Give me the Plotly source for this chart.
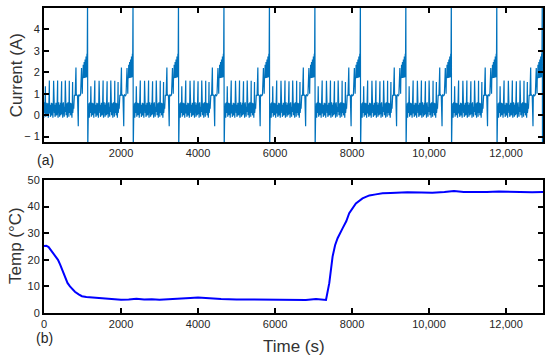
import plotly.graph_objects as go

# ---------------- data ----------------
# (a) current: the record is a repeated charge/discharge cycle; each cycle starts with a spike
CYCLE_STARTS = [-50, 1131, 2312, 3493, 4674, 5855, 7036, 8217, 9398, 10579, 11760, 12941]
SPIKE_T = [0, 6, 14]
SPIKE_I = [5.6, -1.6, 0.35]
PULSE_OFFSETS = [86, 189, 300, 404, 508, 604, 707, 793]
PULSE_HEIGHTS = [1.35, 1.62, 1.6, 1.62, 1.58, 1.62, 1.6, 1.55]
NOISE_I = [0.42, 0.05, 0.55, -0.12, 0.3, 0.6, 0.1, 0.48, -0.08, 0.38, 0.15, 0.58, 0.0]
STEP_T = [812, 822, 840, 860, 880, 888, 900, 920, 940, 948, 960, 980, 1000, 1025, 1033, 1045]
STEP_I = [0.4, 0.3, 0.95, 0.9, 2.22, 0.92, 0.95, 0.9, -0.52, 0.92, 0.95, 0.9, 0.95, 2.2, 1.1, 1.0]
BLOCK_T = [1051, 1057, 1063, 1069, 1075, 1081, 1087, 1093, 1099, 1105, 1111, 1117, 1123, 1129,
           1135, 1141, 1147, 1153, 1159, 1165, 1171, 1176]
BLOCK_I = [1.75, 2.3, 1.72, 2.35, 1.76, 2.42, 1.74, 2.48, 1.78, 2.55, 1.75, 2.6, 1.8, 2.68,
           1.76, 2.74, 1.8, 2.8, 1.78, 2.86, 1.82, 2.9]

# (b) temperature
TEMP_T = [0, 60, 120, 180, 285, 330, 363, 420, 466, 544, 610, 674, 740, 803, 900, 985, 1100,
          1200, 1450, 1700, 2000, 2200, 2400, 2600, 2800, 3000, 3200, 3400, 3600, 3800, 4000,
          4300, 4600, 5000, 5500, 6000, 6500, 6800, 7065, 7200, 7324, 7409, 7495, 7560, 7625,
          7754, 7850, 7927, 8000, 8100, 8272, 8359, 8450, 8618, 8790, 9000, 9437, 9800, 10085,
          10400, 10648, 10900, 11123, 11500, 11813, 12200, 12677, 12960]
TEMP_C = [25.2, 25.3, 24.8, 23.6, 21.3, 20.6, 20.0, 18.2, 16.6, 13.2, 11.3, 10.0, 8.9, 8.0,
          7.0, 6.3, 6.0, 5.9, 5.6, 5.4, 5.0, 5.1, 5.4, 5.1, 5.2, 5.0, 5.1, 5.3, 5.5, 5.6, 5.8,
          5.5, 5.3, 5.1, 5.0, 5.0, 4.8, 4.9, 5.3, 5.0, 4.9, 11.2, 21.2, 25.5, 28.1, 31.8, 34.5,
          37.5, 39.2, 41.2, 43.1, 43.7, 44.2, 44.6, 45.0, 45.1, 45.4, 45.3, 45.2, 45.5, 45.9,
          45.5, 45.4, 45.5, 45.7, 45.5, 45.4, 45.5]

X_TICKS = [0, 2000, 4000, 6000, 8000, 10000, 12000]
X_LABELS = ["0", "2000", "4000", "6000", "8000", "10,000", "12,000"]
CUR_TICKS = [-1, 0, 1, 2, 3, 4]
CUR_LABELS = ["\u2212 1", "0", "1", "2", "3", "4"]
TEMP_TICKS = [0, 10, 20, 30, 40, 50]

# ---------------- build one cycle from the read values ----------------
cyc_t, cyc_i = list(SPIKE_T), list(SPIKE_I)
k = 0
prev = SPIKE_T[-1]
for po, ph in zip(PULSE_OFFSETS, PULSE_HEIGHTS):
    t = prev + 8
    while t < po - 4:
        cyc_t.append(t); cyc_i.append(NOISE_I[k % len(NOISE_I)]); k += 1
        t += 8
    cyc_t += [po, po + 4]
    cyc_i += [ph, 0.1]
    prev = po + 4
cyc_t += STEP_T + BLOCK_T
cyc_i += STEP_I + BLOCK_I

cur_t, cur_i = [], []
for s in CYCLE_STARTS:
    cur_t += [s + o for o in cyc_t]
    cur_i += cyc_i

# ---------------- figure ----------------
fig = go.Figure()
fig.add_trace(go.Scatter(x=cur_t, y=cur_i, mode="lines",
                         line=dict(color="#0072BD", width=1.2),
                         xaxis="x", yaxis="y", showlegend=False, hoverinfo="skip"))
fig.add_trace(go.Scatter(x=TEMP_T, y=TEMP_C, mode="lines",
                         line=dict(color="#0000FF", width=2),
                         xaxis="x2", yaxis="y2", showlegend=False, hoverinfo="skip"))

tickfont = dict(family="Liberation Sans, Arial, sans-serif", size=11, color="#262626")
axis_common = dict(showline=True, linecolor="black", linewidth=2, mirror="ticks",
                   ticks="inside", ticklen=5, tickwidth=2, tickcolor="black",
                   showgrid=False, zeroline=False, tickfont=tickfont, automargin=False)

fig.update_layout(
    template="none",
    width=550, height=361,
    margin=dict(l=44, r=7, t=8, b=48),
    paper_bgcolor="white", plot_bgcolor="white",
    xaxis=dict(axis_common, domain=[0, 1], range=[0, 12960], anchor="y",
               tickvals=X_TICKS[1:], ticktext=X_LABELS[1:]),
    yaxis=dict(axis_common, domain=[0.561, 1], range=[-1.25, 5], anchor="x",
               tickvals=CUR_TICKS, ticktext=CUR_LABELS),
    xaxis2=dict(axis_common, domain=[0, 1], range=[0, 12960], anchor="y2",
                tickvals=X_TICKS, ticktext=X_LABELS),
    yaxis2=dict(axis_common, domain=[0, 0.436], range=[0, 50], anchor="x2",
                tickvals=TEMP_TICKS),
)

titlefont = dict(family="Liberation Sans, Arial, sans-serif", size=17, color="#333333")
fig.add_annotation(text="Current (A)", textangle=-90, xref="paper", yref="paper",
                   x=-0.056, y=0.78, xanchor="center", yanchor="middle",
                   showarrow=False, font=titlefont)
fig.add_annotation(text="Temp (\u00b0C)", textangle=-90, xref="paper", yref="paper",
                   x=-0.056, y=0.22, xanchor="center", yanchor="middle",
                   showarrow=False, font=titlefont)
fig.add_annotation(text="Time (s)", xref="paper", yref="paper", x=0.5, y=-0.111,
                   xanchor="center", yanchor="middle", showarrow=False, font=titlefont)
labfont = dict(family="Liberation Sans, Arial, sans-serif", size=14, color="#262626")
fig.add_annotation(text="(a)", xref="paper", yref="paper", x=0.004, y=0.502,
                   xanchor="center", yanchor="middle", showarrow=False, font=labfont)
fig.add_annotation(text="(b)", xref="paper", yref="paper", x=0.0, y=-0.082,
                   xanchor="center", yanchor="middle", showarrow=False, font=labfont)

fig.write_html("out.html", config={"displayModeBar": False},
               post_script="document.body.style.margin='0px';")
